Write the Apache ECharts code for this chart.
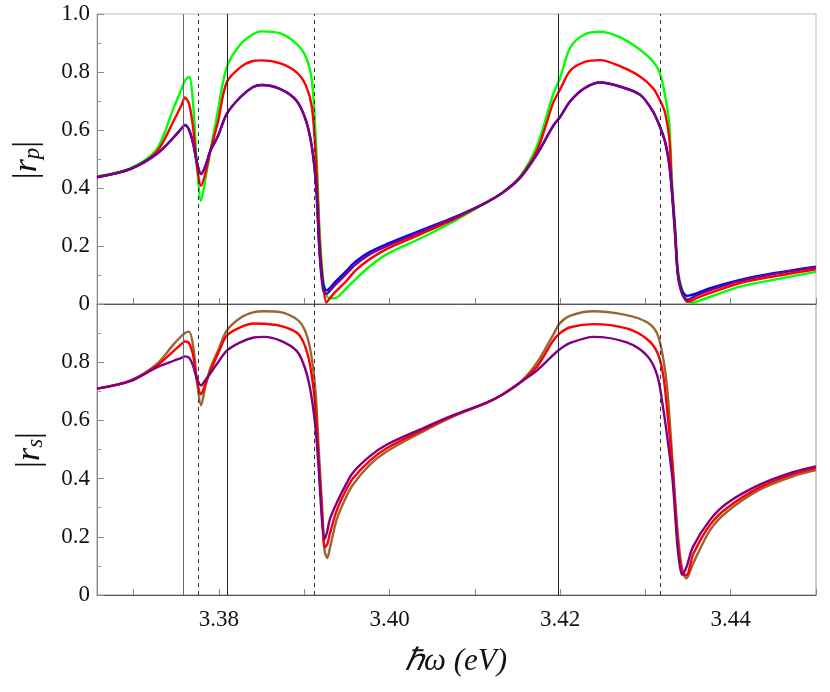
<!DOCTYPE html>
<html>
<head>
<meta charset="utf-8">
<script src="https://cdn.jsdelivr.net/npm/echarts@6/dist/echarts.min.js"></script>
<style>html,body{margin:0;padding:0;background:#fff}#c{width:830px;height:692px}</style>
</head>
<body>
<div id="c"></div>
<script>
// ---- data ----
const xTop = [3.3657,3.3696,3.3727,3.3747,3.3756,3.3760,3.3765,3.3770,3.3774,3.3779,3.3784,3.3790,3.3799,3.3809,3.3825,3.3840,3.3850,3.3872,3.3891,3.3902,3.3909,3.3914,3.3918,3.3922,3.3926,3.3930,3.3936,3.3948,3.3960,3.3977,3.3997,3.4036,3.4074,3.4114,3.4133,3.4153,3.4173,3.4192,3.4200,3.4212,3.4229,3.4247,3.4270,3.4294,3.4309,3.4317,3.4323,3.4328,3.4331,3.4335,3.4338,3.4343,3.4349,3.4355,3.4360,3.4376,3.4411,3.4450,3.4500];
const rpGreen = [0.44,0.468,0.534,0.678,0.74,0.77,0.784,0.68,0.49,0.356,0.43,0.529,0.67,0.816,0.895,0.93,0.94,0.933,0.897,0.851,0.77,0.54,0.253,0.092,0.03,0.02,0.02,0.05,0.085,0.13,0.172,0.226,0.283,0.351,0.385,0.44,0.546,0.725,0.78,0.885,0.93,0.939,0.92,0.876,0.836,0.795,0.72,0.62,0.43,0.26,0.12,0.05,0.015,0.003,0.008,0.025,0.06,0.083,0.111];
const rpRed = [0.438,0.466,0.525,0.632,0.685,0.712,0.69,0.60,0.48,0.408,0.45,0.529,0.63,0.764,0.816,0.838,0.84,0.83,0.799,0.753,0.678,0.483,0.218,0.07,0.005,0.02,0.04,0.075,0.115,0.155,0.19,0.24,0.29,0.351,0.385,0.437,0.53,0.695,0.74,0.805,0.835,0.841,0.82,0.784,0.744,0.703,0.66,0.57,0.41,0.245,0.11,0.04,0.008,0.012,0.02,0.038,0.072,0.095,0.12];
const rpBlue = [0.437,0.465,0.517,0.575,0.605,0.617,0.60,0.55,0.49,0.448,0.475,0.529,0.58,0.655,0.713,0.748,0.755,0.741,0.701,0.632,0.54,0.402,0.18,0.07,0.047,0.055,0.075,0.11,0.146,0.18,0.207,0.253,0.297,0.351,0.385,0.435,0.517,0.615,0.645,0.70,0.745,0.764,0.75,0.721,0.663,0.611,0.56,0.48,0.39,0.235,0.105,0.045,0.028,0.032,0.037,0.055,0.083,0.106,0.129];
const rpPurple = [0.437,0.465,0.517,0.575,0.605,0.617,0.60,0.55,0.49,0.448,0.475,0.529,0.58,0.655,0.713,0.748,0.755,0.741,0.701,0.632,0.54,0.402,0.172,0.05,0.035,0.045,0.065,0.10,0.136,0.172,0.20,0.248,0.295,0.351,0.385,0.435,0.517,0.615,0.645,0.70,0.745,0.764,0.75,0.721,0.663,0.611,0.56,0.48,0.39,0.23,0.10,0.035,0.014,0.022,0.03,0.048,0.08,0.103,0.127];

const xBot = [3.3657,3.3696,3.3727,3.3747,3.3756,3.3760,3.3765,3.3770,3.3774,3.3779,3.3784,3.3790,3.3799,3.3809,3.3825,3.3841,3.3853,3.3872,3.3891,3.3900,3.3907,3.3913,3.3917,3.3921,3.3924,3.3927,3.3930,3.3938,3.3948,3.3957,3.3977,3.3997,3.4036,3.4074,3.4114,3.4133,3.4153,3.4173,3.4192,3.4200,3.4212,3.4239,3.4278,3.4302,3.4314,3.4321,3.4326,3.4332,3.4338,3.4343,3.4348,3.4356,3.4376,3.4396,3.4434,3.4473,3.4500];
const rsBrown = [0.709,0.737,0.793,0.862,0.89,0.90,0.905,0.85,0.74,0.652,0.715,0.78,0.84,0.908,0.952,0.972,0.975,0.972,0.948,0.914,0.845,0.707,0.50,0.30,0.15,0.127,0.16,0.259,0.33,0.379,0.448,0.494,0.557,0.613,0.661,0.69,0.73,0.799,0.895,0.935,0.960,0.975,0.962,0.937,0.897,0.810,0.695,0.45,0.21,0.09,0.057,0.109,0.224,0.287,0.362,0.408,0.429];
const rsRed = [0.709,0.736,0.788,0.839,0.862,0.871,0.865,0.82,0.74,0.69,0.725,0.77,0.83,0.891,0.92,0.933,0.932,0.925,0.902,0.862,0.787,0.649,0.46,0.27,0.163,0.175,0.21,0.29,0.355,0.40,0.462,0.505,0.563,0.615,0.661,0.69,0.73,0.785,0.875,0.90,0.920,0.931,0.916,0.879,0.833,0.753,0.62,0.43,0.18,0.075,0.068,0.14,0.242,0.30,0.37,0.415,0.436];
const rsPurple = [0.709,0.735,0.782,0.805,0.815,0.820,0.815,0.785,0.745,0.72,0.738,0.762,0.80,0.839,0.868,0.885,0.887,0.874,0.839,0.787,0.707,0.58,0.43,0.25,0.192,0.22,0.26,0.316,0.375,0.42,0.477,0.517,0.569,0.617,0.661,0.69,0.73,0.772,0.825,0.845,0.866,0.887,0.868,0.822,0.753,0.638,0.534,0.39,0.155,0.069,0.095,0.167,0.259,0.316,0.379,0.422,0.442];

const solidLines = [3.3758, 3.3810, 3.4198];
const dashedLines = [3.3776, 3.3912, 3.4317];
const xTicks = [3.37,3.38,3.39,3.40,3.41,3.42,3.43,3.44,3.45];
const xLabels = [3.38,3.40,3.42,3.44];
const xMin = 3.3657, xMax = 3.45;

// ---- chart ----
const chart = echarts.init(document.getElementById('c'), null, {renderer:'canvas'});
const zip = (xs, ys) => xs.map((x,i)=>[x, ys[i]]);
const FONT = '"Times New Roman", "Liberation Serif", "DejaVu Serif", serif';

function xAxisDef(grid, withLabels){
  return {
    type:'value', gridIndex:grid, min:xMin, max:xMax,
    axisLine:{show:true, onZero:false, lineStyle:{color:'#555', width:1}},
    axisTick:{show:true, inside:true, length:6, customValues:xTicks, lineStyle:{color:'#888'}},
    axisLabel:{show:withLabels, customValues:xLabels, formatter:v=>v.toFixed(2), color:'#111', fontFamily:FONT, fontSize:23, margin:13},
    splitLine:{show:false}
  };
}
function yAxisDef(grid, hideTop){
  return {
    type:'value', gridIndex:grid, min:0, max:1, interval:0.2,
    axisLine:{show:true, lineStyle:{color:'#888', width:1}},
    axisTick:{show:true, inside:true, length:7, lineStyle:{color:'#888'}},
    minorTick:{show:true, splitNumber:2, length:4, lineStyle:{color:'#999'}},
    axisLabel:{color:'#111', fontFamily:FONT, fontSize:23, margin:7,
      formatter:v=>{ if (hideTop && v>0.99) return ''; return v===0?'0':v.toFixed(1);} },
    splitLine:{show:false}
  };
}
function line(name, xs, ys, color, xi){
  return {name, type:'line', xAxisIndex:xi, yAxisIndex:xi, data:zip(xs,ys), showSymbol:false, symbol:'none',
    smooth:0.3, clip:true, z:3, lineStyle:{color, width:2.4}, itemStyle:{color}, animation:false};
}
function vlines(xi){
  const data = solidLines.map((v,i)=>({xAxis:v, lineStyle:{type:'solid', color: i===0?'#666':'#222', width:1}}))
    .concat(dashedLines.map(v=>({xAxis:v, lineStyle:{type:[4,4], color:'#333', width:1}})));
  return {type:'line', xAxisIndex:xi, yAxisIndex:xi, data:[], z:1, silent:true, animation:false,
    markLine:{symbol:'none', precision:6, silent:true, animation:false, label:{show:false}, data}};
}

chart.setOption({
  animation:false,
  backgroundColor:'#fff',
  textStyle:{fontFamily:FONT},
  grid:[
    {left:97, right:14, top:14, height:290, show:true, borderColor:'#bbb', borderWidth:1},
    {left:97, right:14, top:304, height:291, show:true, borderColor:'#999', borderWidth:1}
  ],
  xAxis:[xAxisDef(0,false), xAxisDef(1,true)],
  yAxis:[yAxisDef(0,false), yAxisDef(1,true)],
  series:[
    vlines(0), vlines(1),
    line('g', xTop, rpGreen, '#00ff00', 0),
    line('r', xTop, rpRed, '#ff0000', 0),
    line('b', xTop, rpBlue, '#0000ff', 0),
    line('p', xTop, rpPurple, '#800080', 0),
    line('br', xBot, rsBrown, '#996633', 1),
    line('r2', xBot, rsRed, '#ff0000', 1),
    line('p2', xBot, rsPurple, '#800080', 1)
  ],
  graphic:[
    {type:'text', x:27, y:160, rotation:Math.PI/2, style:{
      text:'|{i|r}{s|p}|', fill:'#111', font:'34px "Times New Roman", "Liberation Serif", serif', align:'center', verticalAlign:'middle',
      rich:{i:{fontFamily:FONT, fontSize:34, fontStyle:'italic', fill:'#111'}, s:{fontFamily:FONT, fontSize:23, fontStyle:'italic', fill:'#111', verticalAlign:'bottom', lineHeight:14}}
    }},
    {type:'text', x:30, y:450, rotation:Math.PI/2, style:{
      text:'|{i|r}{s|s}|', fill:'#111', font:'34px "Times New Roman", "Liberation Serif", serif', align:'center', verticalAlign:'middle',
      rich:{i:{fontFamily:FONT, fontSize:34, fontStyle:'italic', fill:'#111'}, s:{fontFamily:FONT, fontSize:23, fontStyle:'italic', fill:'#111', verticalAlign:'bottom', lineHeight:14}}
    }},
    {type:'text', x:456, y:662, style:{text:'ℏω (eV)', fill:'#111', font:'italic 31px "Times New Roman", "Liberation Serif", serif', align:'center', verticalAlign:'middle'}}
  ]
});
</script>
</body>
</html>
